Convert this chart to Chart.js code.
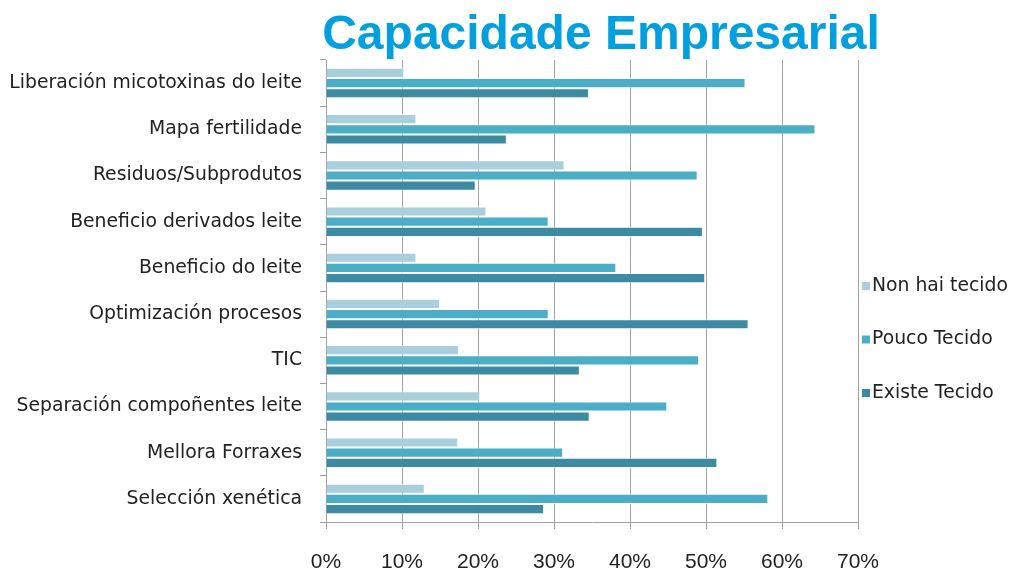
<!DOCTYPE html>
<html>
<head>
<meta charset="utf-8">
<script src="https://cdn.jsdelivr.net/npm/chart.js@4/dist/chart.umd.min.js"></script>
<style>
  body { margin: 0; background: #fff; }
  #wrap { width: 1010px; height: 575px; }
</style>
</head>
<body>
<div id="wrap"><canvas id="grafico" width="1010" height="575"></canvas></div>
<script>
const titulo = "Capacidade Empresarial";
const categorias = [
  "Liberación micotoxinas do leite",
  "Mapa fertilidade",
  "Residuos/Subprodutos",
  "Beneficio derivados leite",
  "Beneficio do leite",
  "Optimización procesos",
  "TIC",
  "Separación compoñentes leite",
  "Mellora Forraxes",
  "Selección xenética"
];
const nonHaiTecido = [10.3, 11.9, 31.4, 21.1, 11.9, 15.0, 17.5, 20.3, 17.4, 13.0];
const poucoTecido = [55.2, 64.4, 48.9, 29.3, 38.2, 29.3, 49.1, 44.9, 31.2, 58.2];
const existeTecido = [34.6, 23.8, 19.7, 49.6, 49.9, 55.6, 33.4, 34.7, 51.5, 28.7];
const ticksX = [0, 10, 20, 30, 40, 50, 60, 70];

const fonteTexto = "'DejaVu Sans', Verdana, sans-serif";

// titulo e lenda debuxados a man (o titulo do Chart.js apértase ao ancho do grafico)
const extras = {
  id: "extras",
  afterDraw(chart) {
    const ctx = chart.ctx;
    ctx.save();
    ctx.font = "bold 48px 'Liberation Sans', Arial, sans-serif";
    ctx.fillStyle = "#00a0e0";
    ctx.textAlign = "center";
    ctx.textBaseline = "alphabetic";
    ctx.fillText(titulo, 601, 49);

    ctx.font = "18.8px " + fonteTexto;
    ctx.textAlign = "left";
    ctx.textBaseline = "middle";
    chart.data.datasets.forEach((ds, i) => {
      const y = 286 + i * 53.5;
      ctx.fillStyle = ds.backgroundColor;
      ctx.fillRect(862, y - 4, 8, 8);
      ctx.fillStyle = "#222";
      ctx.fillText(ds.label, 872, y);
    });
    ctx.restore();
  }
};

new Chart(document.querySelector("#grafico").getContext("2d"), {
  type: "bar",
  data: {
    labels: categorias,
    datasets: [
      { label: "Non hai tecido", data: nonHaiTecido, backgroundColor: "#a9cfdd" },
      { label: "Pouco Tecido", data: poucoTecido, backgroundColor: "#4badc6" },
      { label: "Existe Tecido", data: existeTecido, backgroundColor: "#3c8ba3" }
    ]
  },
  options: {
    indexAxis: "y",
    responsive: false,
    animation: false,
    datasets: {
      bar: {
        categoryPercentage: 0.66,
        barPercentage: 1,
        borderWidth: 1,
        borderColor: "rgba(255,255,255,0.7)"
      }
    },
    layout: {
      padding: { left: 0, right: 152, top: 60, bottom: 0 }
    },
    scales: {
      x: {
        min: 0,
        max: 70,
        afterBuildTicks: (scale) => { scale.ticks = ticksX.map((v) => ({ value: v })); },
        afterFit: (scale) => { scale.height = 53; },
        grid: { color: "#a0a0a0", tickLength: 7 },
        border: { color: "#a0a0a0" },
        ticks: {
          padding: 21,
          maxRotation: 0,
          color: "#222",
          font: { family: "'Liberation Sans', Arial, sans-serif", size: 21 },
          callback: (v) => v + "%"
        }
      },
      y: {
        afterFit: (scale) => { scale.width = 326; },
        grid: { offset: true, drawOnChartArea: false, color: "#a0a0a0", tickLength: 6 },
        border: { color: "#a0a0a0" },
        ticks: {
          padding: 18,
          color: "#222",
          font: { family: fonteTexto, size: 18.8 }
        }
      }
    },
    plugins: {
      legend: { display: false },
      tooltip: { enabled: false },
      title: { display: false }
    }
  },
  plugins: [extras]
});
</script>
</body>
</html>
